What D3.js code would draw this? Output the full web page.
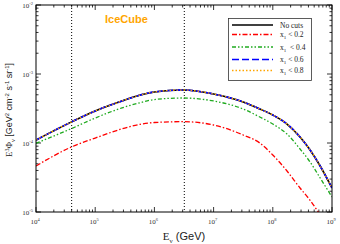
<!DOCTYPE html>
<html>
<head>
<meta charset="utf-8">
<script src="https://cdn.jsdelivr.net/npm/d3@7"></script>
<style>
  body { margin: 0; background: #fff; }
  svg { display: block; }
  .serif { font-family: "Liberation Serif", "DejaVu Serif", serif; }
  .sans { font-family: "Liberation Sans", Arial, sans-serif; }
</style>
</head>
<body>
<div id="chart"></div>
<script>
var logE = [4.0, 4.61, 5.0, 5.5, 5.76, 6.0, 6.48, 7.0, 7.5, 7.78, 8.0, 8.24, 8.46, 8.63, 8.8, 9.0];

// log10 of E^3 Phi for each cut
var noCuts = [-3.957, -3.69, -3.536, -3.377, -3.304, -3.26, -3.232, -3.29, -3.406, -3.507, -3.594, -3.725, -3.913, -4.101, -4.333, -4.652];
var cut02 = [-4.333, -4.053, -3.928, -3.783, -3.729, -3.703, -3.691, -3.739, -3.884, -4.0, -4.174, -4.406, -4.652, -4.83, -5.04, -5.3];
var cut04 = [-4.004, -3.787, -3.638, -3.478, -3.416, -3.37, -3.348, -3.391, -3.507, -3.623, -3.725, -3.87, -4.087, -4.275, -4.507, -4.783];
var cut06 = noCuts.slice();
var cut08 = noCuts.slice();

var seriesNames = ["No cuts", "x1 < 0.2", "x1  < 0.4", "x1 < 0.6", "x1 < 0.8"];
var seriesValues = [noCuts, cut02, cut04, cut06, cut08];

var xTicks = [1e4, 1e5, 1e6, 1e7, 1e8, 1e9];
var xTickExp = ["4", "5", "6", "7", "8", "9"];
var yTicks = [1e-5, 1e-4, 1e-3, 1e-2];
var yTickExp = ["-5", "-4", "-3", "-2"];

// IceCube energy window (GeV)
var windowLines = [4e4, 3.2e6];

var width = 340;
var height = 244;
var padLeft = 36, padRight = 332, padTop = 5, padBottom = 212;

var colors = ["#000000", "#ff0000", "#1faa1f", "#0000ff", "#ffa500"];
var dashes = [null, "5,2,1.5,2", "4,2,1.5,2,1.5,2", "7,3", "1.5,2"];
var widths = [1.6, 1.3, 1.3, 1.6, 1.3];

var svg = d3.select("#chart")
  .append("svg")
  .attr("width", width)
  .attr("height", height);

var xScale = d3.scaleLog().domain([1e4, 1e9]).range([padLeft, padRight]);
var yScale = d3.scaleLog().domain([1e-5, 1e-2]).range([padBottom, padTop]);

svg.append("clipPath").attr("id", "plotClip")
  .append("rect")
  .attr("x", padLeft).attr("y", padTop)
  .attr("width", padRight - padLeft).attr("height", padBottom - padTop);

// minor tick values
function minorTicks(lo, hi) {
  var out = [];
  for (var p = lo; p < hi; p++) {
    for (var m = 2; m <= 9; m++) out.push(m * Math.pow(10, p));
  }
  return out;
}
var xMinor = minorTicks(4, 9);
var yMinor = minorTicks(-5, -2);

// inward ticks on all four sides
var tickG = svg.append("g").attr("stroke", "#000").attr("stroke-width", 0.8);

xTicks.forEach(function(v) {
  var x = xScale(v);
  tickG.append("line").attr("x1", x).attr("x2", x).attr("y1", padBottom).attr("y2", padBottom - 5);
  tickG.append("line").attr("x1", x).attr("x2", x).attr("y1", padTop).attr("y2", padTop + 5);
});
xMinor.forEach(function(v) {
  var x = xScale(v);
  tickG.append("line").attr("x1", x).attr("x2", x).attr("y1", padBottom).attr("y2", padBottom - 2.5);
  tickG.append("line").attr("x1", x).attr("x2", x).attr("y1", padTop).attr("y2", padTop + 2.5);
});
yTicks.forEach(function(v) {
  var y = yScale(v);
  tickG.append("line").attr("x1", padLeft).attr("x2", padLeft + 5).attr("y1", y).attr("y2", y);
  tickG.append("line").attr("x1", padRight).attr("x2", padRight - 5).attr("y1", y).attr("y2", y);
});
yMinor.forEach(function(v) {
  var y = yScale(v);
  tickG.append("line").attr("x1", padLeft).attr("x2", padLeft + 2.5).attr("y1", y).attr("y2", y);
  tickG.append("line").attr("x1", padRight).attr("x2", padRight - 2.5).attr("y1", y).attr("y2", y);
});

// tick labels
xTicks.forEach(function(v, i) {
  var t = svg.append("text")
    .attr("class", "serif")
    .attr("x", xScale(v) - 1)
    .attr("y", 224)
    .attr("text-anchor", "middle")
    .attr("font-size", 7)
    .attr("fill", "#333");
  t.append("tspan").text("10");
  t.append("tspan").attr("dy", -3).attr("font-size", 4.5).text(xTickExp[i]);
});
yTicks.forEach(function(v, i) {
  var t = svg.append("text")
    .attr("class", "serif")
    .attr("x", padLeft - 3)
    .attr("y", yScale(v) + 3)
    .attr("text-anchor", "end")
    .attr("font-size", 7)
    .attr("fill", "#333");
  t.append("tspan").text("10");
  t.append("tspan").attr("dy", -3).attr("font-size", 4.5).text(yTickExp[i]);
});

// dotted window lines
windowLines.forEach(function(v) {
  svg.append("line")
    .attr("x1", xScale(v)).attr("x2", xScale(v))
    .attr("y1", padTop).attr("y2", padBottom)
    .attr("stroke", "#000")
    .attr("stroke-width", 1)
    .attr("stroke-dasharray", "1,2");
});

// curves
var line = d3.line()
  .x(function(d) { return xScale(Math.pow(10, d[0])); })
  .y(function(d) { return yScale(Math.pow(10, d[1])); })
  .curve(d3.curveMonotoneX);

var curveG = svg.append("g").attr("clip-path", "url(#plotClip)");
seriesValues.forEach(function(vals, i) {
  var pts = logE.map(function(e, j) { return [e, vals[j]]; });
  curveG.append("path")
    .datum(pts)
    .attr("d", line)
    .attr("fill", "none")
    .attr("stroke", colors[i])
    .attr("stroke-width", widths[i])
    .attr("stroke-dasharray", dashes[i]);
});

// frame
svg.append("rect")
  .attr("x", padLeft).attr("y", padTop)
  .attr("width", padRight - padLeft).attr("height", padBottom - padTop)
  .attr("fill", "none")
  .attr("stroke", "#000")
  .attr("stroke-width", 1);

// IceCube label
svg.append("text")
  .attr("class", "sans")
  .attr("x", 105)
  .attr("y", 23)
  .attr("font-size", 11)
  .attr("font-weight", "bold")
  .attr("fill", "#ffa500")
  .text("IceCube");

// legend
var legend = svg.append("g");
legend.append("rect")
  .attr("x", 228.5).attr("y", 18.5)
  .attr("width", 83).attr("height", 62)
  .attr("fill", "#fff")
  .attr("stroke", "#333")
  .attr("stroke-width", 0.8);

var legendY = [25, 34.5, 47, 59.5, 70.5];
seriesNames.forEach(function(name, i) {
  var y = legendY[i];
  legend.append("line")
    .attr("x1", 232).attr("x2", 273)
    .attr("y1", y).attr("y2", y)
    .attr("stroke", colors[i])
    .attr("stroke-width", widths[i])
    .attr("stroke-dasharray", dashes[i]);
  var t = legend.append("text")
    .attr("class", "serif")
    .attr("x", 280)
    .attr("y", y + 2.5)
    .attr("font-size", 7.5)
    .attr("fill", "#222")
    .attr("xml:space", "preserve")
    .style("white-space", "pre");
  if (i === 0) {
    t.text(name);
  } else {
    t.append("tspan").text("x");
    t.append("tspan").attr("dy", 2).attr("font-size", 5).text("1");
    t.append("tspan").attr("dy", -2).text(name.slice(2));
  }
});

// x axis title
var xTitle = svg.append("text")
  .attr("x", 184)
  .attr("y", 240)
  .attr("text-anchor", "middle")
  .attr("font-size", 11)
  .attr("fill", "#222");
xTitle.append("tspan").attr("class", "serif").text("E");
xTitle.append("tspan").attr("class", "serif").attr("dy", 2.5).attr("font-size", 7).text("ν");
xTitle.append("tspan").attr("class", "sans").attr("dy", -2.5).text(" (GeV)");

// y axis title
var yTitle = svg.append("text")
  .attr("transform", "translate(12," + 110 + ")rotate(-90)")
  .attr("text-anchor", "middle")
  .attr("font-size", 9)
  .attr("fill", "#222");
yTitle.append("tspan").attr("class", "serif").text("E");
yTitle.append("tspan").attr("class", "serif").attr("dy", -3.5).attr("font-size", 6).text("3");
yTitle.append("tspan").attr("class", "serif").attr("dy", 3.5).text("Φ");
yTitle.append("tspan").attr("class", "serif").attr("dy", 2.5).attr("font-size", 6).text("ν");
yTitle.append("tspan").attr("class", "sans").attr("dy", -2.5).text(" [GeV");
yTitle.append("tspan").attr("class", "sans").attr("dy", -3.5).attr("font-size", 6).text("2");
yTitle.append("tspan").attr("class", "sans").attr("dy", 3.5).text(" cm");
yTitle.append("tspan").attr("class", "sans").attr("dy", -3.5).attr("font-size", 6).text("-2");
yTitle.append("tspan").attr("class", "sans").attr("dy", 3.5).text(" s");
yTitle.append("tspan").attr("class", "sans").attr("dy", -3.5).attr("font-size", 6).text("-1");
yTitle.append("tspan").attr("class", "sans").attr("dy", 3.5).text(" sr");
yTitle.append("tspan").attr("class", "sans").attr("dy", -3.5).attr("font-size", 6).text("-1");
yTitle.append("tspan").attr("class", "sans").attr("dy", 3.5).text("]");
</script>
</body>
</html>
